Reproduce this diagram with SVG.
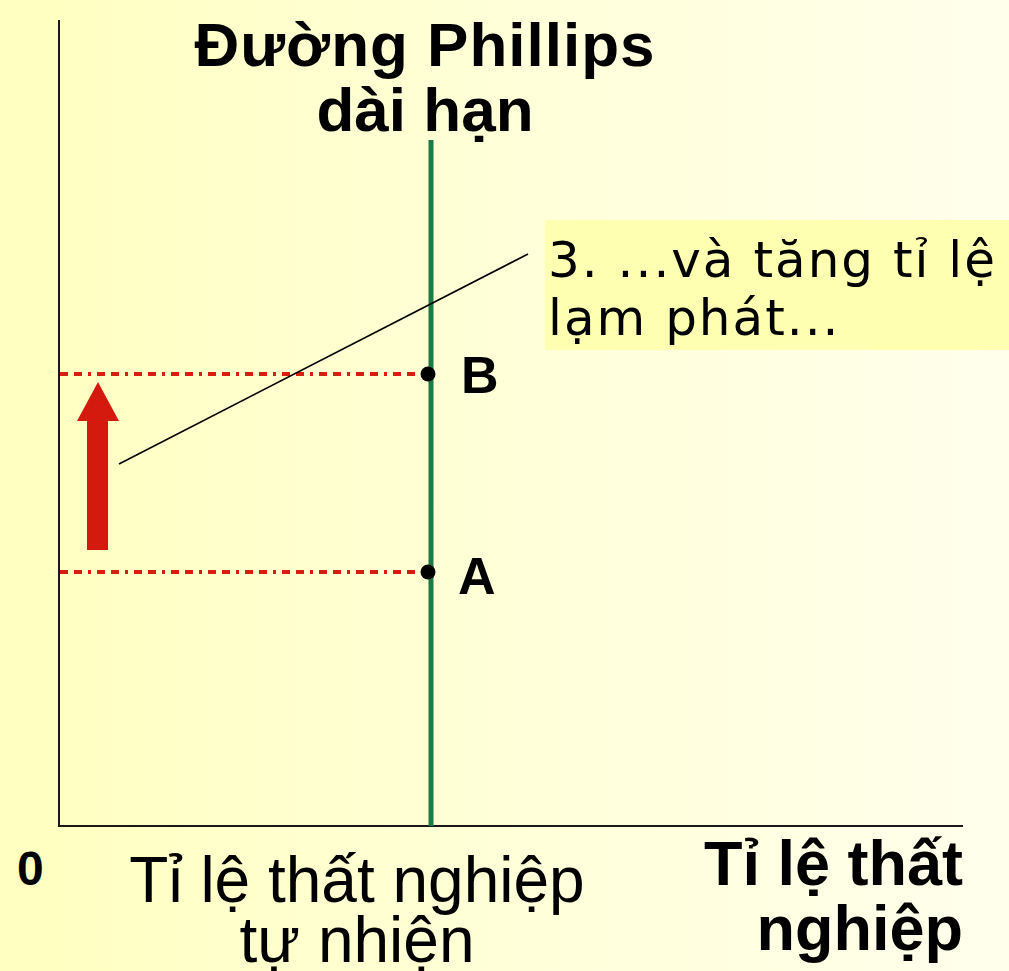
<svg xmlns="http://www.w3.org/2000/svg" width="1009" height="971" viewBox="0 0 1009 971">
<defs>
<linearGradient id="bg" x1="0" y1="0" x2="1" y2="0">
<stop offset="0" stop-color="#FFFFC0"/>
<stop offset="0.5" stop-color="#FFFFD8"/>
<stop offset="1" stop-color="#FFFFEC"/>
</linearGradient>
<style>
.bold{font-family:"Liberation Sans",Arial,sans-serif;font-weight:bold;fill:#000}
.reg{font-family:"Liberation Sans",Arial,sans-serif;fill:#000}
.call{font-family:"DejaVu Sans",Verdana,sans-serif;fill:#000;font-size:50px;letter-spacing:2px}
.axis{stroke:#1a1a1a;stroke-width:2;fill:none}
.guide{stroke:#D81E10;stroke-width:4;stroke-dasharray:8 6 8 6 3 6;fill:none}
</style>
</defs>
<rect width="1009" height="971" fill="url(#bg)"/>
<g id="axes">
<line class="axis" x1="59" y1="20" x2="59" y2="826"/>
<line class="axis" x1="58" y1="826" x2="963" y2="826"/>
</g>
<g id="lrpc">
<line x1="431" y1="140" x2="431" y2="826" stroke="#1E7A45" stroke-width="5"/>
<text class="bold" x="425" y="66" font-size="62" text-anchor="middle" letter-spacing="1">Đường Phillips</text>
<text class="bold" x="425" y="131" font-size="62" text-anchor="middle">dài hạn</text>
</g>
<g id="connectors">
<line class="guide" x1="60" y1="374" x2="424" y2="374"/>
<line class="guide" x1="60" y1="572" x2="424" y2="572"/>
<line x1="119" y1="464" x2="528" y2="254" stroke="#000" stroke-width="1.6"/>
<polygon points="87,550 108,550 108,421 119,421 98,382 77,421 87,421" fill="#D41A0E"/>
</g>
<g id="pointB">
<circle cx="428" cy="374" r="7.5" fill="#000"/>
<text class="bold" x="461" y="393" font-size="52">B</text>
</g>
<g id="pointA">
<circle cx="428" cy="572" r="7.5" fill="#000"/>
<text class="bold" x="458" y="594" font-size="52">A</text>
</g>
<g id="callout">
<rect x="545" y="220" width="470" height="130" fill="#FFFFB2"/>
<text class="call" x="548" y="277">3. ...và tăng tỉ lệ</text>
<text class="call" x="548" y="335">lạm phát...</text>
</g>
<g id="labels">
<text class="bold" x="17" y="885" font-size="48">0</text>
<text class="reg" x="357" y="902" font-size="64" text-anchor="middle">Tỉ lệ thất nghiệp</text>
<text class="reg" x="357" y="962" font-size="64" text-anchor="middle">tự nhiện</text>
<text class="bold" x="963" y="885" font-size="63" text-anchor="end">Tỉ lệ thất</text>
<text class="bold" x="963" y="950" font-size="63" text-anchor="end">nghiệp</text>
</g>
</svg>
